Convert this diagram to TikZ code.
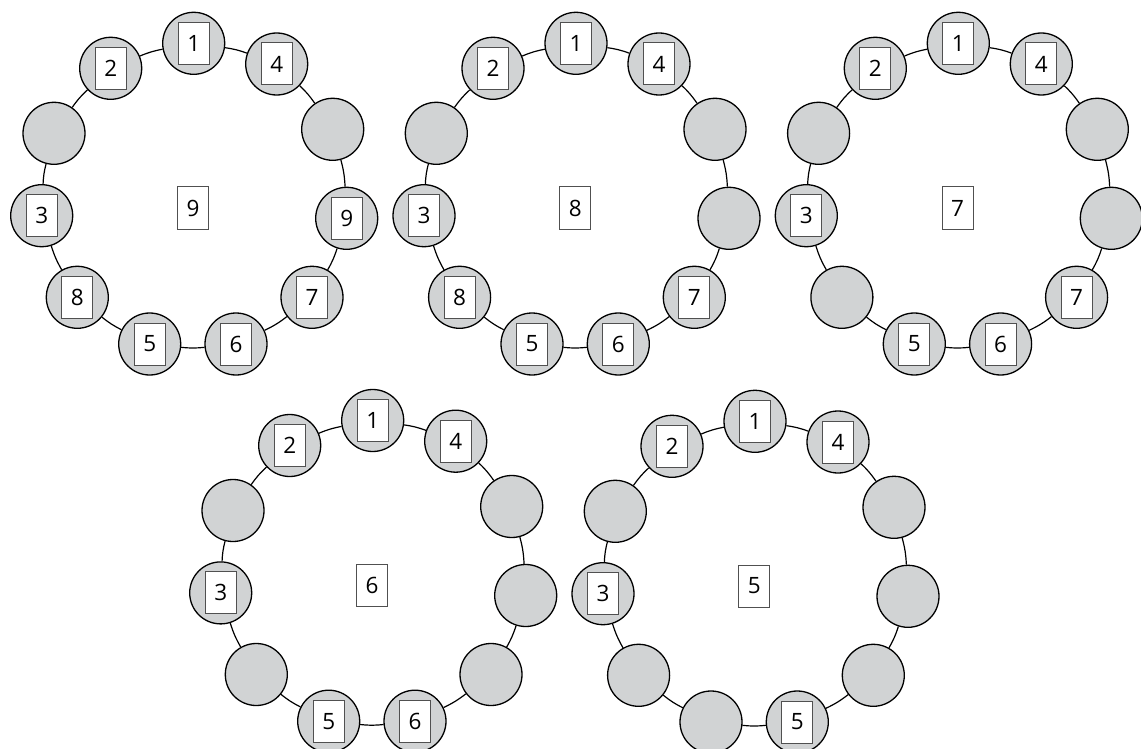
\documentclass[tikz,border=0pt]{standalone}
\usepackage{fontspec}
\setmainfont{Open Sans}
\definecolor{ballgray}{RGB}{209,211,212}
\definecolor{boxedge}{RGB}{80,80,80}
\tikzset{
  ball/.style={circle, draw=black, line width=1.3pt, fill=ballgray, minimum size=62pt, inner sep=0pt},
  numbox/.style={rectangle, draw=boxedge, line width=1pt, fill=white, minimum width=31pt, minimum height=42pt, inner sep=0pt, font=\fontsize{22.5}{26}\selectfont},
  link/.style={draw=black, line width=1.2pt}
}
\def\mydash{-}
\newcommand\myring[5]{%
  \begin{scope}[shift={(#2,#3)}]
    \foreach \dx/\dy [count=\i] in {0/0, -83/25, -139.7/90, -152/172.4, -116.4/254, -44/300.7, 42.3/300.7, 118.3/254, 153/175, 139/86, 83/20.7}
      {\node[ball] (#1-\i) at (\dx,\dy) {};}
    \foreach \i in {1,...,11}{
      \pgfmathtruncatemacro{\j}{mod(\i,11)+1}
      \draw[link] (#1-\i) to[bend right=6] (#1-\j);
    }
    \foreach \lab [count=\i] in {#4}{
      \ifx\lab\mydash\else\node[numbox] (#1-b\i) at (#1-\i) {\lab};\fi
    }
    \node[numbox] (#1-c) at (-0.7,164.7) {#5};
  \end{scope}}
\begin{document}
\begin{tikzpicture}[x=1pt,y=-1pt]
\useasboundingbox (0,0) rectangle (1141,749);
\clip (0,0) rectangle (1141,749);
\myring{ra}{193.7}{43.3}{1,2,-,3,8,5,6,7,9,-,4}{9}
\myring{rb}{576}{43.3}{1,2,-,3,8,5,6,7,-,-,4}{8}
\myring{rc}{958.3}{43.3}{1,2,-,3,-,5,6,7,-,-,4}{7}
\myring{rd}{372.7}{420.5}{1,2,-,3,-,5,6,-,-,-,4}{6}
\myring{re}{755}{421.3}{1,2,-,3,-,-,5,-,-,-,4}{5}
\end{tikzpicture}
\end{document}
